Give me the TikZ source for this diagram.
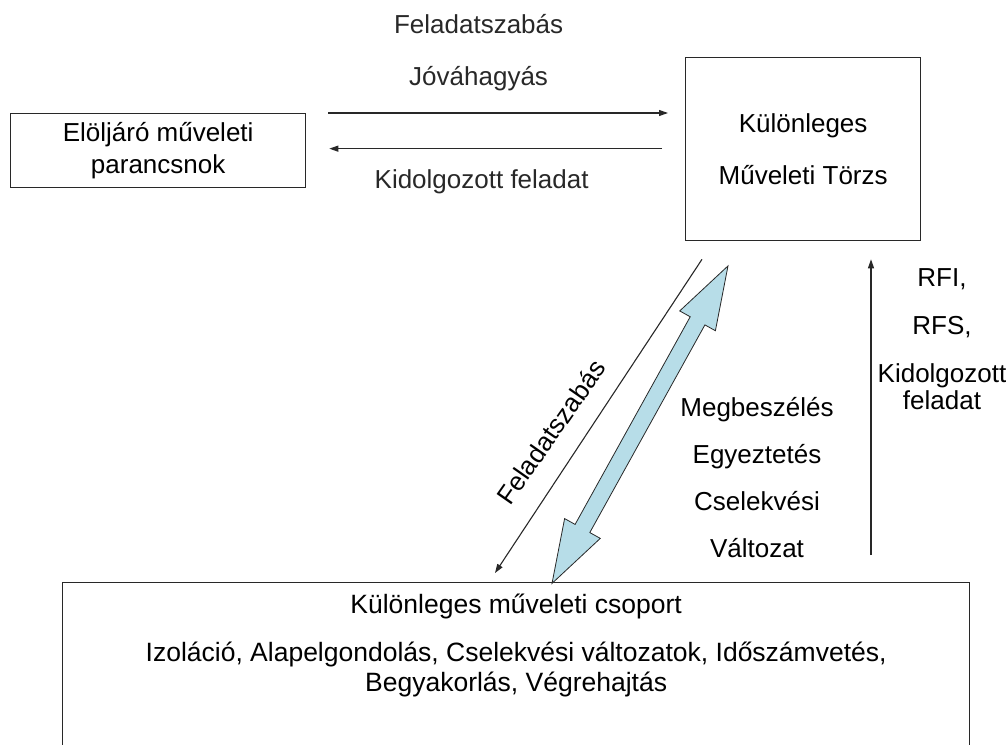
\documentclass[tikz,border=0pt]{standalone}
\usepackage{fontspec}
\setmainfont{Liberation Sans}
\usetikzlibrary{arrows.meta, calc, positioning, shapes.arrows}
\definecolor{halvanykek}{RGB}{183,221,232}
\definecolor{keret}{RGB}{40,40,40}

\tikzset{
	doboz/.style={draw=keret, line width=1.3pt, inner sep=0pt, align=center, font=\fontsize{26}{30}\selectfont},
	cimke/.style={inner sep=0pt, align=center, font=\fontsize{26}{30}\selectfont},
	nyil/.style={-{Triangle[length=9pt,width=6pt]}, line width=1.1pt, keret}
}

\begin{document}
\begin{tikzpicture}[x=1pt,y=-1pt]
		\useasboundingbox (0,0) rectangle (1006,744);
		
		%----------------------------------------------------------------
		\node(eloljaro) [doboz, minimum width=295, minimum height=74, anchor=north west] at (10,113) {Elöljáró műveleti\\[2pt]parancsnok};
		\node(torzs) [doboz, minimum width=235, minimum height=183, anchor=north west] at (685,57) {Különleges\\[22pt]Műveleti Törzs};
		\node(csoport) [doboz, minimum width=907, minimum height=220, anchor=north west] at (62,582) {};
		\node(csoportszoveg) [cimke, below=12pt of csoport.north, font=\fontsize{26.5}{30}\selectfont] {Különleges műveleti csoport\\[18pt]
			Izoláció, Alapelgondolás, Cselekvési változatok, Időszámvetés,\\
			Begyakorlás, Végrehajtás};
		
		%----------------------------------------------------------------
		\draw [nyil, shorten <=22pt, shorten >=17pt]
		(eloljaro.north east) -- (eloljaro.north east -| torzs.west)
		node(feladat) [cimke, pos=0.455, above=22pt, font=\fontsize{26}{52}\selectfont] {Feladatszabás\\Jóváhagyás};
		\draw [nyil, shorten <=23pt, shorten >=23pt]
		($(eloljaro.east -| torzs.west)+(0,-2)$) -- ($(eloljaro.east)+(0,-2)$)
		node(kidolgozott) [cimke, pos=0.537, below=20pt] {Kidolgozott feladat};
		
		%----------------------------------------------------------------
		\draw [nyil] ($(torzs.south west)+(17,18)$) -- ($(csoport.north west)+(433,-9)$);
		\node(szabas) [cimke, rotate=55] at (551,432) {Feladatszabás};
		
		\node(egyeztetes) [double arrow, draw=keret, line width=0.8pt, fill=halvanykek, inner sep=8pt,
			minimum height=363, double arrow head extend=12pt, double arrow tip angle=36, rotate=61]
		at ($($(torzs.south west)+(43,25)$)!0.5!($(csoport.north west)+(490,1)$)$) {};
		\node(megbeszeles) [cimke, font=\fontsize{26}{47}\selectfont] at (757,478) {Megbeszélés\\Egyeztetés\\Cselekvési\\Változat};
		
		%----------------------------------------------------------------
		\draw [nyil] ($(csoport.north west)+(809,-27)$) -- ($(torzs.south west)+(186,18)$);
		\node(rfi) [cimke, font=\fontsize{26}{48}\selectfont] at (942,339) {RFI,\\RFS,\\Kidolgozott\\[-21pt]feladat};
		
	\end{tikzpicture}
\end{document}
